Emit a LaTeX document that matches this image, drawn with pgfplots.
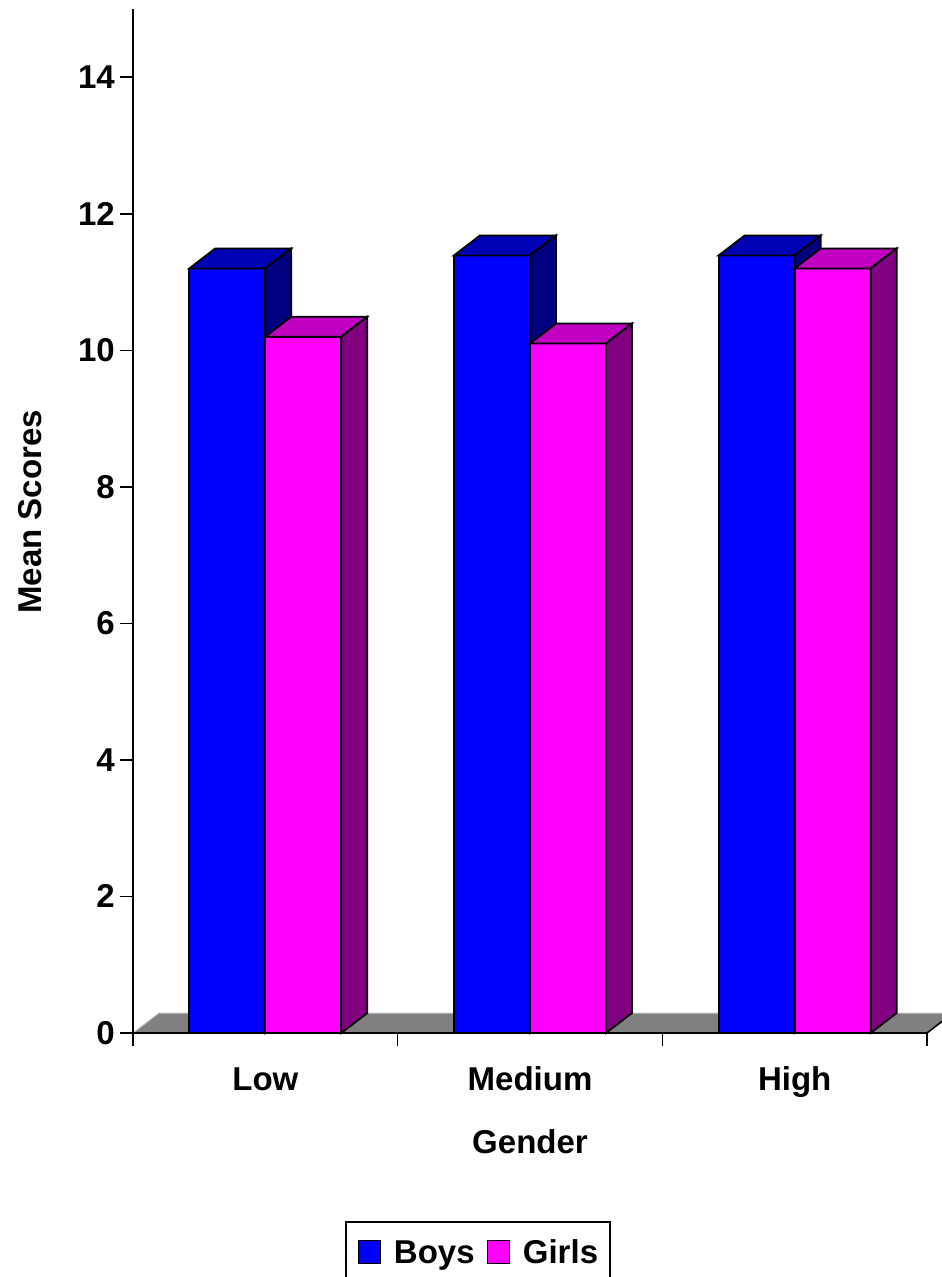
\documentclass[border=0pt]{standalone}
\usepackage{pgfplots}
\usepackage{pgfplotstable}
\pgfplotsset{compat=1.18}
\usepackage{fontspec}
\setmainfont{Liberation Sans}
\newcommand\bigbf{\fontsize{33}{39.6}\selectfont\bfseries}
\definecolor{boysfront}{HTML}{0000FF}
\definecolor{boystop}{HTML}{0000B4}
\definecolor{boysside}{HTML}{000080}
\definecolor{girlsfront}{HTML}{FF00FF}
\definecolor{girlstop}{HTML}{C000C0}
\definecolor{girlsside}{HTML}{800080}
\definecolor{floorgray}{HTML}{808080}
\pgfdeclareplotmark{nomark}{}
\pgfplotstableread{
x   y
0.5 11.2
1.5 11.39
2.5 11.39
}\boys
\pgfplotstableread{
x   y
0.5 10.2
1.5 10.1
2.5 11.2
}\girls
% 3D bar (front, top and side faces), drawn at each bar's top (origin = category centre at bar top)
\newcommand\threeD[4]{%
  \pgfmathsetmacro\bh{\barval*68.267}%
  \pgfmathsetmacro\bb{20-\bh}%
  \pgfmathsetmacro\xa{#1-38}%
  \pgfmathsetmacro\xb{#1-12}%
  \pgfmathsetmacro\xc{#1+38}%
  \pgfmathsetmacro\xd{#1+64}%
  \path[fill=#2,draw=black,line width=1.8pt] (\xa pt,-\bh pt) rectangle (\xc pt,0pt);
  \path[fill=#3,draw=black,line width=1.8pt] (\xa pt,0pt) -- (\xb pt,20pt) -- (\xd pt,20pt) -- (\xc pt,0pt) -- cycle;
  \path[fill=#4,draw=black,line width=1.8pt] (\xc pt,0pt) -- (\xd pt,20pt) -- (\xd pt,\bb pt) -- (\xc pt,-\bh pt) -- cycle;
}
\begin{document}
\begin{tikzpicture}
\begin{axis}[
  at={(0pt,0pt)}, anchor=south west,
  width=794pt, height=1024pt, scale only axis,
  xmin=0, xmax=3, ymin=0, ymax=15,
  clip=false, axis on top,
  axis x line*=bottom, axis y line*=left,
  axis line style={line width=1.6pt,-},
  tick style={line width=1.6pt, black},
  major tick length=13pt, tick align=outside,
  xtick={0,1,2,3}, xticklabels={},
  extra x ticks={0.5,1.5,2.5},
  extra x tick labels={Low,Medium,High},
  extra x tick style={major tick length=0pt},
  xticklabel style={font=\bigbf, inner sep=0pt, anchor=base, yshift=-57pt},
  ytick={0,2,...,14},
  yticklabel style={font=\bigbf, inner sep=0pt, anchor=east, xshift=-5pt},
  /pgf/number format/assume math mode=true,
  xlabel={Gender},
  xlabel style={at={(axis description cs:0.5,-0.1172)}, anchor=base, inner sep=0pt, font=\bigbf},
  ylabel={Mean Scores},
  ylabel style={at={(axis description cs:-0.1297,0.5088)}, anchor=center, inner sep=0pt, font=\bigbf},
  legend columns=2,
  legend style={at={(axis description cs:0.267,-0.1836)}, anchor=north west,
    draw=black, line width=1.6pt, font=\bigbf, inner xsep=12pt, inner ysep=18pt,
    nodes={inner sep=0pt, text depth=0pt},
    /tikz/every odd column/.append style={column sep=13pt},
    /tikz/every even column/.append style={column sep=12pt}},
]
% floor
\addplot[fill=floorgray, draw=none, forget plot] coordinates {(0,0) (3,0) (3.0982,0.293) (0.0982,0.293)} -- cycle;
\addplot[draw=gray!45, line width=1pt, forget plot] coordinates {(0,0) (0.0982,0.293) (3.0982,0.293)};
\addplot[draw=black, line width=1.6pt, forget plot] coordinates {(3,0) (3.0982,0.293)};
% Boys
\addplot[ybar, bar width=76pt, bar shift=-38pt, fill=boysfront, draw=black, line width=1.8pt,
  legend image code/.code={\draw[draw=black, fill=boysfront, line width=1.2pt] (0pt,-11.5pt) rectangle (22pt,11.5pt);}]
  table[x=x,y=y] {\boys};
\addlegendentry{Boys}
% Girls
\addplot[ybar, bar width=76pt, bar shift=38pt, fill=girlsfront, draw=black, line width=1.8pt,
  legend image code/.code={\draw[draw=black, fill=girlsfront, line width=1.2pt] (0pt,-11.5pt) rectangle (22pt,11.5pt);}]
  table[x=x,y=y] {\girls};
\addlegendentry{Girls}
% 3D faces (drawn in the marker stage, boys first then girls)
\addplot[only marks, mark=nomark, scatter, point meta=y, forget plot,
  visualization depends on={rawy \as \barval},
  scatter/@pre marker code/.code={\threeD{-38}{boysfront}{boystop}{boysside}},
  scatter/@post marker code/.code={}]
  table[x=x,y=y] {\boys};
\addplot[only marks, mark=nomark, scatter, point meta=y, forget plot,
  visualization depends on={rawy \as \barval},
  scatter/@pre marker code/.code={\threeD{38}{girlsfront}{girlstop}{girlsside}},
  scatter/@post marker code/.code={}]
  table[x=x,y=y] {\girls};
\end{axis}
\pgfresetboundingbox
\path (-133pt,-244pt) rectangle (809pt,1033pt);
\end{tikzpicture}
\end{document}
